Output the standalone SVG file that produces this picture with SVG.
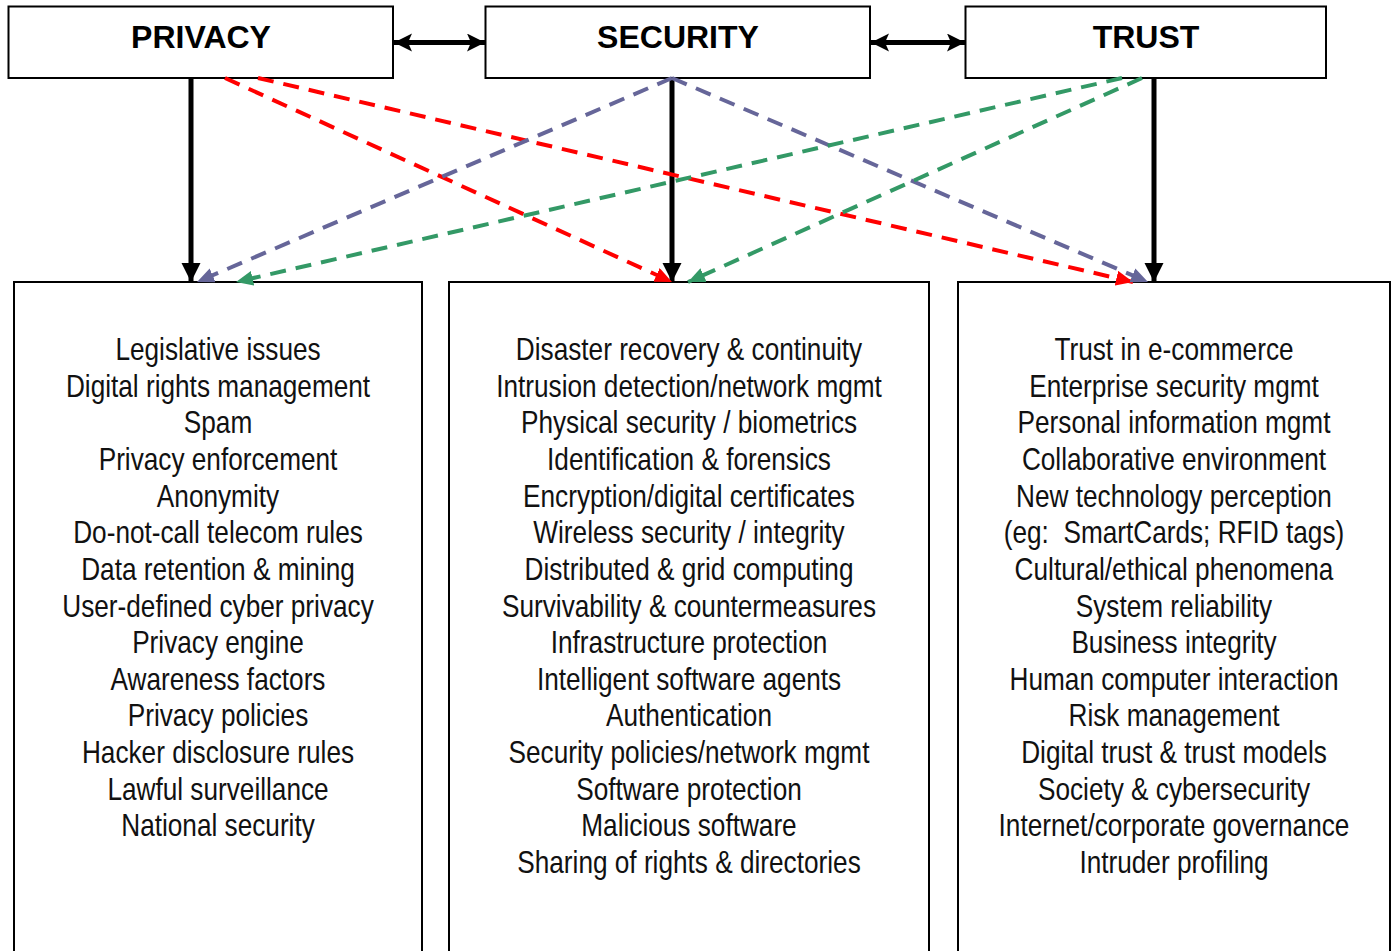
<svg xmlns="http://www.w3.org/2000/svg" width="1395" height="951" viewBox="0 0 1395 951">
  <style>
    .box { fill: #ffffff; stroke: #000000; stroke-width: 2; }
    .head { font-family: "Liberation Sans", Arial, sans-serif; font-weight: bold; font-size: 32px; fill: #000000; text-anchor: middle; }
    .item { font-family: "Liberation Sans Narrow", "Arial Narrow", "Liberation Sans", sans-serif; font-size: 31px; fill: #111111; text-anchor: middle; }
    .solid { stroke: #000000; stroke-width: 5; fill: none; }
    .link { stroke: #000000; stroke-width: 5; fill: none; }
    .dash { stroke-width: 4; stroke-dasharray: 16 10; fill: none; }
    .red { stroke: #ff0000; }
    .purple { stroke: #666699; }
    .green { stroke: #339966; }
  </style>
  <defs>
    <marker id="blackHead" markerUnits="userSpaceOnUse" markerWidth="20" markerHeight="20" refX="19" refY="9.5" orient="auto">
      <path d="M0,0 L19,9.5 L0,19 Z" fill="#000000"/>
    </marker>
    <marker id="linkHead" markerUnits="userSpaceOnUse" markerWidth="19" markerHeight="19" refX="18" refY="9" orient="auto-start-reverse">
      <path d="M0,0 L18,9 L0,18 L4,9 Z" fill="#000000"/>
    </marker>
    <marker id="redHead" markerUnits="userSpaceOnUse" markerWidth="18" markerHeight="16" refX="17" refY="7.5" orient="auto">
      <path d="M0,0 L17,7.5 L0,15 Z" fill="#ff0000"/>
    </marker>
    <marker id="purpleHead" markerUnits="userSpaceOnUse" markerWidth="18" markerHeight="16" refX="17" refY="7.5" orient="auto">
      <path d="M0,0 L17,7.5 L0,15 Z" fill="#666699"/>
    </marker>
    <marker id="greenHead" markerUnits="userSpaceOnUse" markerWidth="18" markerHeight="16" refX="17" refY="7.5" orient="auto">
      <path d="M0,0 L17,7.5 L0,15 Z" fill="#339966"/>
    </marker>
  </defs>

  <!-- header boxes -->
  <g id="privacy">
    <rect class="box" x="8.5" y="6.5" width="384.5" height="71.5"/>
    <text class="head" x="201" y="48">PRIVACY</text>
  </g>
  <g id="security">
    <rect class="box" x="485.5" y="6.5" width="384.5" height="71.5"/>
    <text class="head" x="678" y="48">SECURITY</text>
  </g>
  <g id="trust">
    <rect class="box" x="965.5" y="6.5" width="360.5" height="71.5"/>
    <text class="head" x="1146" y="48">TRUST</text>
  </g>

  <!-- topic lists; text is condensed horizontally around each column centre -->
  <g id="privacy-topics">
    <rect class="box" x="14" y="282" width="408" height="680"/>
    <g transform="translate(218,0) scale(0.845,1)">
      <text class="item" x="0" y="360">Legislative issues</text>
      <text class="item" x="0" y="396.7">Digital rights management</text>
      <text class="item" x="0" y="433.3">Spam</text>
      <text class="item" x="0" y="470">Privacy enforcement</text>
      <text class="item" x="0" y="506.6">Anonymity</text>
      <text class="item" x="0" y="543.3">Do-not-call telecom rules</text>
      <text class="item" x="0" y="579.9">Data retention &amp; mining</text>
      <text class="item" x="0" y="616.6">User-defined cyber privacy</text>
      <text class="item" x="0" y="653.2">Privacy engine</text>
      <text class="item" x="0" y="689.9">Awareness factors</text>
      <text class="item" x="0" y="726.5">Privacy policies</text>
      <text class="item" x="0" y="763.2">Hacker disclosure rules</text>
      <text class="item" x="0" y="799.8">Lawful surveillance</text>
      <text class="item" x="0" y="836.5">National security</text>
    </g>
  </g>
  <g id="security-topics">
    <rect class="box" x="449" y="282" width="480" height="680"/>
    <g transform="translate(689,0) scale(0.845,1)">
      <text class="item" x="0" y="360">Disaster recovery &amp; continuity</text>
      <text class="item" x="0" y="396.7">Intrusion detection/network mgmt</text>
      <text class="item" x="0" y="433.3">Physical security / biometrics</text>
      <text class="item" x="0" y="470">Identification &amp; forensics</text>
      <text class="item" x="0" y="506.6">Encryption/digital certificates</text>
      <text class="item" x="0" y="543.3">Wireless security / integrity</text>
      <text class="item" x="0" y="579.9">Distributed &amp; grid computing</text>
      <text class="item" x="0" y="616.6">Survivability &amp; countermeasures</text>
      <text class="item" x="0" y="653.2">Infrastructure protection</text>
      <text class="item" x="0" y="689.9">Intelligent software agents</text>
      <text class="item" x="0" y="726.5">Authentication</text>
      <text class="item" x="0" y="763.2">Security policies/network mgmt</text>
      <text class="item" x="0" y="799.8">Software protection</text>
      <text class="item" x="0" y="836.5">Malicious software</text>
      <text class="item" x="0" y="873.1">Sharing of rights &amp; directories</text>
    </g>
  </g>
  <g id="trust-topics">
    <rect class="box" x="958" y="282" width="432" height="680"/>
    <g transform="translate(1174,0) scale(0.845,1)">
      <text class="item" x="0" y="360">Trust in e-commerce</text>
      <text class="item" x="0" y="396.7">Enterprise security mgmt</text>
      <text class="item" x="0" y="433.3">Personal information mgmt</text>
      <text class="item" x="0" y="470">Collaborative environment</text>
      <text class="item" x="0" y="506.6">New technology perception</text>
      <text class="item" x="0" y="543.3" xml:space="preserve">(eg:  SmartCards; RFID tags)</text>
      <text class="item" x="0" y="579.9">Cultural/ethical phenomena</text>
      <text class="item" x="0" y="616.6">System reliability</text>
      <text class="item" x="0" y="653.2">Business integrity</text>
      <text class="item" x="0" y="689.9">Human computer interaction</text>
      <text class="item" x="0" y="726.5">Risk management</text>
      <text class="item" x="0" y="763.2">Digital trust &amp; trust models</text>
      <text class="item" x="0" y="799.8">Society &amp; cybersecurity</text>
      <text class="item" x="0" y="836.5">Internet/corporate governance</text>
      <text class="item" x="0" y="873.1">Intruder profiling</text>
    </g>
  </g>

  <!-- connectors -->
  <g id="connectors">
    <!-- mutual links between the three areas -->
    <line class="link" x1="394" y1="42.5" x2="485" y2="42.5" marker-start="url(#linkHead)" marker-end="url(#linkHead)"/>
    <line class="link" x1="871" y1="42.5" x2="965" y2="42.5" marker-start="url(#linkHead)" marker-end="url(#linkHead)"/>
    <!-- direct descent into each topic list -->
    <line class="solid" x1="191" y1="78" x2="191" y2="282" marker-end="url(#blackHead)"/>
    <line class="solid" x1="672" y1="78" x2="672" y2="282" marker-end="url(#blackHead)"/>
    <line class="solid" x1="1154" y1="78" x2="1154" y2="282" marker-end="url(#blackHead)"/>
    <!-- cross influences -->
    <line class="dash red" x1="225" y1="78" x2="672" y2="282" marker-end="url(#redHead)"/>
    <line class="dash red" x1="258" y1="78" x2="1133" y2="282" marker-end="url(#redHead)"/>
    <line class="dash purple" x1="672" y1="78" x2="197" y2="282" marker-end="url(#purpleHead)"/>
    <line class="dash purple" x1="672" y1="78" x2="1148" y2="282" marker-end="url(#purpleHead)"/>
    <line class="dash green" x1="1122" y1="78" x2="236" y2="282" marker-end="url(#greenHead)"/>
    <line class="dash green" x1="1142" y1="78" x2="688" y2="282" marker-end="url(#greenHead)"/>
  </g>
</svg>
